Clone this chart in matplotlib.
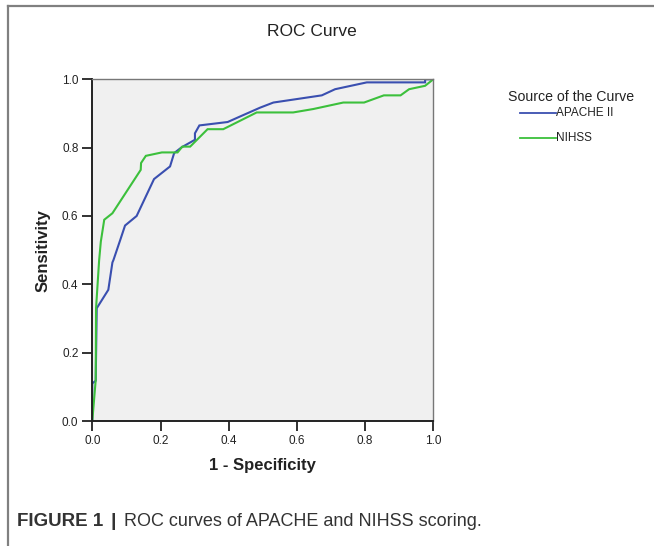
import matplotlib.pyplot as plt
from matplotlib.lines import Line2D

plt.rcParams['font.family'] = ['Liberation Sans', 'DejaVu Sans']

# ROC points
apache_fpr = [0.0, 0.0, 0.010, 0.013, 0.047, 0.059, 0.062, 0.082, 0.096, 0.130,
              0.181, 0.228, 0.240, 0.262, 0.301, 0.301, 0.314, 0.397, 0.433,
              0.492, 0.531, 0.673, 0.712, 0.805, 0.976, 0.976, 1.0]
apache_tpr = [0.0, 0.110, 0.118, 0.330, 0.384, 0.464, 0.471, 0.530, 0.572, 0.600,
              0.708, 0.745, 0.784, 0.801, 0.823, 0.842, 0.865, 0.875, 0.891,
              0.917, 0.932, 0.953, 0.971, 0.991, 0.991, 1.0, 1.0]

nihss_fpr = [0.0, 0.010, 0.011, 0.020, 0.025, 0.035, 0.059, 0.142, 0.143, 0.157,
             0.204, 0.250, 0.264, 0.287, 0.338, 0.384, 0.482, 0.589, 0.648,
             0.736, 0.797, 0.855, 0.904, 0.929, 0.976, 1.0]
nihss_tpr = [0.0, 0.120, 0.330, 0.470, 0.525, 0.589, 0.608, 0.735, 0.755, 0.776,
             0.786, 0.786, 0.803, 0.803, 0.854, 0.854, 0.903, 0.903, 0.913,
             0.932, 0.932, 0.953, 0.953, 0.971, 0.981, 1.0]

ticks = [0.0, 0.2, 0.4, 0.6, 0.8, 1.0]
blue = '#3a4fb0'
green = '#3cc03c'

W, H = 654, 546
fig = plt.figure(figsize=(W / 100, H / 100), dpi=100)
ax = fig.add_axes([92.3 / W, 1 - 421 / H, 341 / W, 341.7 / H])
ax.set_facecolor('#f0f0f0')

ax.plot(apache_fpr, apache_tpr, color=blue, lw=1.5, solid_joinstyle='miter')
ax.plot(nihss_fpr, nihss_tpr, color=green, lw=1.5, solid_joinstyle='miter')

ax.set_xlim(0, 1)
ax.set_ylim(0, 1)
ax.set_xticks(ticks)
ax.set_yticks(ticks)
ax.set_xticklabels([f'{t:.1f}' for t in ticks])
ax.set_yticklabels([f'{t:.1f}' for t in ticks])
ax.tick_params(direction='out', length=7, width=1.3, labelsize=8.5, pad=3,
               colors='#222222')
for s in ['left', 'bottom']:
    ax.spines[s].set_linewidth(1.4)
    ax.spines[s].set_color('#222222')
for s in ['top', 'right']:
    ax.spines[s].set_linewidth(1.0)
    ax.spines[s].set_color('#777777')

ax.set_xlabel('1 - Specificity', fontsize=12, fontweight='bold', labelpad=8,
              color='#222222')
ax.set_ylabel('Sensitivity', fontsize=12, fontweight='bold', labelpad=8,
              color='#222222')

fig.text(312 / W, 1 - 32 / H, 'ROC Curve', ha='center', va='center',
         fontsize=12.5, color='#222222')

# legend drawn like the SPSS output
fig.text(571 / W, 1 - 97 / H, 'Source of the Curve', ha='center', va='center',
         fontsize=10.2, color='#222222')
for yy, col, lab in [(113, blue, 'APACHE II'), (138, green, 'NIHSS')]:
    fig.add_artist(Line2D([520 / W, 556 / W], [1 - yy / H, 1 - yy / H],
                          color=col, lw=1.3))
    fig.text(556 / W, 1 - yy / H, lab, ha='left', va='center', fontsize=8.5,
             color='#222222')

# frame around the figure panel
fig.add_artist(Line2D([8 / W, 8 / W], [0, 1 - 6 / H], color='#808080', lw=1.6))
fig.add_artist(Line2D([8 / W, 1], [1 - 6 / H, 1 - 6 / H], color='#808080', lw=1.6))

fig.text(17 / W, 1 - 522 / H, 'FIGURE 1', ha='left', va='center',
         fontsize=13.5, fontweight='bold', color='#333333')
fig.text(111 / W, 1 - 521 / H, '|', ha='left', va='center',
         fontsize=14, fontweight='bold', color='#333333')
fig.text(124 / W, 1 - 522 / H, 'ROC curves of APACHE and NIHSS scoring.',
         ha='left', va='center', fontsize=13, color='#333333')

fig.savefig('out.png', dpi=100)
